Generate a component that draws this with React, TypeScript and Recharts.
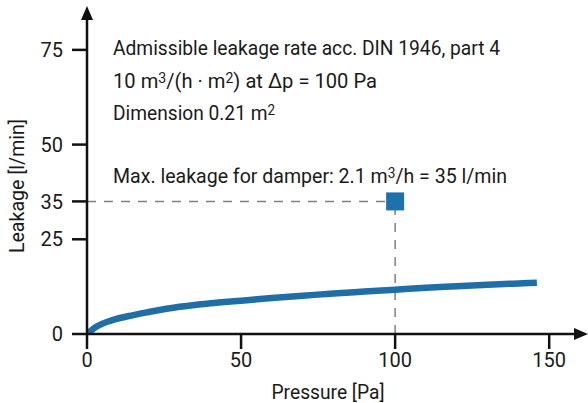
import {
  ComposedChart,
  Customized,
  Line,
  ReferenceDot,
  ReferenceLine,
  Scatter,
  XAxis,
  YAxis,
} from "recharts";

const pressure = [0, 3, 8, 15, 20, 30, 40, 50, 60, 70, 80, 90, 100, 110, 120, 130, 140, 146];
const leakage = [0, 1.9, 3.6, 5.0, 5.8, 7.2, 8.1, 8.8, 9.5, 10.1, 10.7, 11.2, 11.7, 12.2, 12.6, 13.0, 13.35, 13.55];
const xTicks = [0, 50, 100, 150];
const yTicks = [0, 25, 35, 50, 75];
const maxPoint = { p: 100, q: 35 };

const curve = pressure.map((p, i) => ({ p, q: leakage[i] }));

const FONT = 'Roboto, "Liberation Sans", sans-serif';
const BLUE = "#1f6fa6";

const Notes = () => (
  <g fontFamily={FONT} fontSize={20} fill="#1a1a1a">
    <text x={113} y={55} textLength={387} lengthAdjust="spacingAndGlyphs">
      Admissible leakage rate acc. DIN 1946, part 4
    </text>
    <text x={113} y={88} textLength={264} lengthAdjust="spacingAndGlyphs">
      10 m<tspan dy={-5} fontSize={14}>3</tspan>
      <tspan dy={5}>/(h · m</tspan>
      <tspan dy={-5} fontSize={14}>2</tspan>
      <tspan dy={5}>) at Δp = 100 Pa</tspan>
    </text>
    <text x={113} y={120} textLength={162} lengthAdjust="spacingAndGlyphs">
      Dimension 0.21 m<tspan dy={-5} fontSize={14}>2</tspan>
    </text>
    <text x={113} y={183} textLength={394} lengthAdjust="spacingAndGlyphs">
      Max. leakage for damper: 2.1 m<tspan dy={-5} fontSize={14}>3</tspan>
      <tspan dy={5}>/h = 35 l/min</tspan>
    </text>
    <text
      x={17}
      y={186}
      transform="rotate(-90 17 186)"
      textAnchor="middle"
      dominantBaseline="central"
      textLength={134}
      lengthAdjust="spacingAndGlyphs"
    >
      Leakage [l/min]
    </text>
    <text x={328} y={399} textAnchor="middle" textLength={113} lengthAdjust="spacingAndGlyphs">
      Pressure [Pa]
    </text>
  </g>
);

export default function App() {
  return (
    <div style={{ position: "absolute", left: 0, top: 0, background: "#fff" }}>
      <ComposedChart
        width={588}
        height={403}
        margin={{ top: 12, right: 8, bottom: 0, left: 0 }}
      >
        <XAxis
          dataKey="p"
          type="number"
          domain={[0, 160]}
          ticks={xTicks}
          allowDataOverflow
          height={69}
          tickSize={15}
          tickMargin={4}
          axisLine={{ stroke: "#111", strokeWidth: 2.5 }}
          tickLine={{ stroke: "#111", strokeWidth: 2.5 }}
          tick={{ fill: "#1a1a1a", fontSize: 20, fontFamily: FONT }}
        />
        <YAxis
          dataKey="q"
          type="number"
          domain={[0, 85]}
          ticks={yTicks}
          allowDataOverflow
          width={87}
          tickSize={15}
          tickMargin={9}
          axisLine={{ stroke: "#111", strokeWidth: 2.5 }}
          tickLine={{ stroke: "#111", strokeWidth: 2.5 }}
          tick={{ fill: "#1a1a1a", fontSize: 20, fontFamily: FONT }}
        />
        <ReferenceLine
          segment={[{ x: 0, y: 35 }, { x: 100, y: 35 }]}
          stroke="#808080"
          strokeWidth={1.5}
          strokeDasharray="9 8"
        />
        <ReferenceLine
          segment={[{ x: 100, y: 0 }, { x: 100, y: 35 }]}
          stroke="#808080"
          strokeWidth={1.5}
          strokeDasharray="9 8"
        />
        <Line
          data={curve}
          dataKey="q"
          type="monotone"
          stroke={BLUE}
          strokeWidth={6.5}
          dot={false}
          isAnimationActive={false}
        />
        <Scatter
          data={[maxPoint]}
          dataKey="q"
          fill="#1d72ad"
          isAnimationActive={false}
          shape={(props: any) => (
            <rect x={props.cx - 9} y={props.cy - 9} width={18} height={18} fill="#1d72ad" />
          )}
        />
        <ReferenceDot
          x={160}
          y={0}
          ifOverflow="visible"
          shape={(props: any) => (
            <path
              d={`M${props.cx + 8},${props.cy} L${props.cx - 6},${props.cy - 6} L${props.cx - 6},${props.cy + 6} Z`}
              fill="#111"
            />
          )}
        />
        <ReferenceDot
          x={0}
          y={85}
          ifOverflow="visible"
          shape={(props: any) => (
            <path
              d={`M${props.cx},${props.cy - 6} L${props.cx - 6},${props.cy + 8} L${props.cx + 6},${props.cy + 8} Z`}
              fill="#111"
            />
          )}
        />
        <Customized component={Notes} />
      </ComposedChart>
    </div>
  );
}
